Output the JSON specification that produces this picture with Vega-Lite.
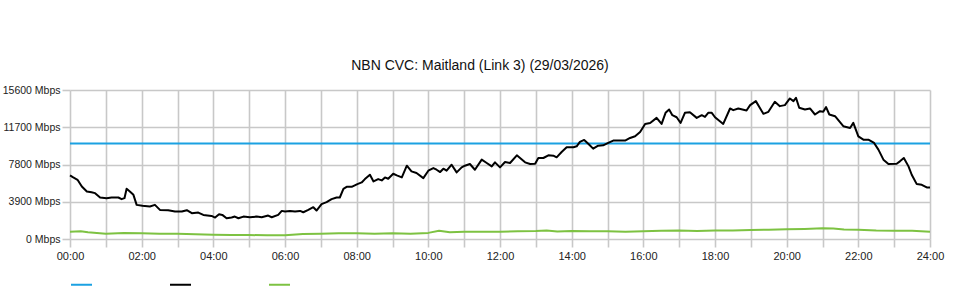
{
"$schema": "https://vega.github.io/schema/vega-lite/v6.json",
"width": 860, "height": 149,
"autosize": "none",
"padding": {"left": 70, "top": 90, "right": 30, "bottom": 61},
"background": "white",
"title": {"text": "NBN CVC: Maitland (Link 3) (29/03/2026)", "font": "Liberation Sans", "fontSize": 14, "fontWeight": "normal", "color": "#111111", "anchor": "middle", "dx": -20, "offset": 12},
"config": {"view": {"stroke": null}},
"data": {"values": [
{"s":"Capacity","h":0,"v":10000},{"s":"Capacity","h":24,"v":10000},
{"s":"Traffic In","h":0.00,"v":6658},{"s":"Traffic In","h":0.09,"v":6450},{"s":"Traffic In","h":0.21,"v":6200},{"s":"Traffic In","h":0.33,"v":5500},{"s":"Traffic In","h":0.47,"v":4975},{"s":"Traffic In","h":0.60,"v":4900},{"s":"Traffic In","h":0.70,"v":4800},{"s":"Traffic In","h":0.84,"v":4345},{"s":"Traffic In","h":1.02,"v":4275},{"s":"Traffic In","h":1.16,"v":4345},{"s":"Traffic In","h":1.35,"v":4345},{"s":"Traffic In","h":1.44,"v":4170},{"s":"Traffic In","h":1.52,"v":4275},{"s":"Traffic In","h":1.58,"v":5256},{"s":"Traffic In","h":1.67,"v":4975},{"s":"Traffic In","h":1.77,"v":4625},{"s":"Traffic In","h":1.86,"v":3574},{"s":"Traffic In","h":2.02,"v":3470},{"s":"Traffic In","h":2.23,"v":3400},{"s":"Traffic In","h":2.37,"v":3574},{"s":"Traffic In","h":2.51,"v":3048},{"s":"Traffic In","h":2.74,"v":3013},{"s":"Traffic In","h":2.93,"v":2873},{"s":"Traffic In","h":3.12,"v":2873},{"s":"Traffic In","h":3.26,"v":3013},{"s":"Traffic In","h":3.40,"v":2698},{"s":"Traffic In","h":3.58,"v":2768},{"s":"Traffic In","h":3.72,"v":2523},{"s":"Traffic In","h":3.95,"v":2418},{"s":"Traffic In","h":4.05,"v":2243},{"s":"Traffic In","h":4.16,"v":2593},{"s":"Traffic In","h":4.25,"v":2523},{"s":"Traffic In","h":4.37,"v":2173},{"s":"Traffic In","h":4.51,"v":2243},{"s":"Traffic In","h":4.60,"v":2348},{"s":"Traffic In","h":4.70,"v":2173},{"s":"Traffic In","h":4.84,"v":2348},{"s":"Traffic In","h":5.02,"v":2278},{"s":"Traffic In","h":5.21,"v":2348},{"s":"Traffic In","h":5.35,"v":2278},{"s":"Traffic In","h":5.53,"v":2453},{"s":"Traffic In","h":5.63,"v":2278},{"s":"Traffic In","h":5.81,"v":2523},{"s":"Traffic In","h":5.91,"v":2943},
{"s":"Traffic In","h":6.00,"v":2873},{"s":"Traffic In","h":6.14,"v":2943},{"s":"Traffic In","h":6.28,"v":2873},{"s":"Traffic In","h":6.42,"v":2943},{"s":"Traffic In","h":6.51,"v":2803},{"s":"Traffic In","h":6.65,"v":3048},{"s":"Traffic In","h":6.79,"v":3329},{"s":"Traffic In","h":6.88,"v":2978},{"s":"Traffic In","h":7.02,"v":3644},{"s":"Traffic In","h":7.16,"v":3854},{"s":"Traffic In","h":7.30,"v":4170},{"s":"Traffic In","h":7.44,"v":4345},{"s":"Traffic In","h":7.53,"v":4345},{"s":"Traffic In","h":7.63,"v":5256},{"s":"Traffic In","h":7.72,"v":5466},{"s":"Traffic In","h":7.86,"v":5466},{"s":"Traffic In","h":8.02,"v":5747},{"s":"Traffic In","h":8.14,"v":5922},{"s":"Traffic In","h":8.23,"v":6272},{"s":"Traffic In","h":8.37,"v":6728},{"s":"Traffic In","h":8.47,"v":6027},{"s":"Traffic In","h":8.60,"v":6272},{"s":"Traffic In","h":8.70,"v":6132},{"s":"Traffic In","h":8.79,"v":6447},{"s":"Traffic In","h":8.88,"v":6307},{"s":"Traffic In","h":9.02,"v":6833},{"s":"Traffic In","h":9.12,"v":6658},{"s":"Traffic In","h":9.26,"v":6447},{"s":"Traffic In","h":9.40,"v":7674},{"s":"Traffic In","h":9.53,"v":7078},{"s":"Traffic In","h":9.67,"v":6903},{"s":"Traffic In","h":9.86,"v":6378},{"s":"Traffic In","h":10.00,"v":7149},{"s":"Traffic In","h":10.14,"v":7429},{"s":"Traffic In","h":10.23,"v":7253},{"s":"Traffic In","h":10.33,"v":7008},{"s":"Traffic In","h":10.42,"v":7358},{"s":"Traffic In","h":10.51,"v":7149},{"s":"Traffic In","h":10.65,"v":7780},{"s":"Traffic In","h":10.79,"v":6973},{"s":"Traffic In","h":10.93,"v":7499},{"s":"Traffic In","h":11.02,"v":7674},{"s":"Traffic In","h":11.16,"v":7850},{"s":"Traffic In","h":11.30,"v":7253},{"s":"Traffic In","h":11.49,"v":8305},{"s":"Traffic In","h":11.63,"v":7955},{"s":"Traffic In","h":11.77,"v":7604},{"s":"Traffic In","h":11.86,"v":8025},
{"s":"Traffic In","h":12.00,"v":7499},{"s":"Traffic In","h":12.14,"v":8060},{"s":"Traffic In","h":12.28,"v":7955},{"s":"Traffic In","h":12.47,"v":8760},{"s":"Traffic In","h":12.56,"v":8480},{"s":"Traffic In","h":12.70,"v":8025},{"s":"Traffic In","h":12.84,"v":7850},{"s":"Traffic In","h":12.98,"v":7885},{"s":"Traffic In","h":13.07,"v":8480},{"s":"Traffic In","h":13.21,"v":8480},{"s":"Traffic In","h":13.35,"v":8760},{"s":"Traffic In","h":13.49,"v":8725},{"s":"Traffic In","h":13.58,"v":8550},{"s":"Traffic In","h":13.72,"v":9110},{"s":"Traffic In","h":13.86,"v":9600},{"s":"Traffic In","h":14.05,"v":9600},{"s":"Traffic In","h":14.14,"v":9705},{"s":"Traffic In","h":14.23,"v":10160},{"s":"Traffic In","h":14.35,"v":10370},{"s":"Traffic In","h":14.47,"v":9950},{"s":"Traffic In","h":14.60,"v":9460},{"s":"Traffic In","h":14.74,"v":9775},{"s":"Traffic In","h":14.88,"v":9810},{"s":"Traffic In","h":15.02,"v":10056},{"s":"Traffic In","h":15.16,"v":10300},{"s":"Traffic In","h":15.35,"v":10300},{"s":"Traffic In","h":15.49,"v":10300},{"s":"Traffic In","h":15.63,"v":10580},{"s":"Traffic In","h":15.77,"v":10756},{"s":"Traffic In","h":15.91,"v":11212},{"s":"Traffic In","h":16.05,"v":12050},{"s":"Traffic In","h":16.19,"v":12154},{"s":"Traffic In","h":16.37,"v":12680},{"s":"Traffic In","h":16.51,"v":12050},{"s":"Traffic In","h":16.62,"v":13210},{"s":"Traffic In","h":16.72,"v":13560},{"s":"Traffic In","h":16.81,"v":12960},{"s":"Traffic In","h":16.93,"v":12750},{"s":"Traffic In","h":17.04,"v":12150},{"s":"Traffic In","h":17.16,"v":13210},{"s":"Traffic In","h":17.30,"v":13280},{"s":"Traffic In","h":17.49,"v":12680},{"s":"Traffic In","h":17.63,"v":12960},{"s":"Traffic In","h":17.72,"v":12785},{"s":"Traffic In","h":17.81,"v":13210},{"s":"Traffic In","h":17.91,"v":13210},
{"s":"Traffic In","h":18.00,"v":12750},{"s":"Traffic In","h":18.23,"v":12050},{"s":"Traffic In","h":18.42,"v":13665},{"s":"Traffic In","h":18.51,"v":13490},{"s":"Traffic In","h":18.65,"v":13665},{"s":"Traffic In","h":18.88,"v":13455},{"s":"Traffic In","h":18.98,"v":14016},{"s":"Traffic In","h":19.14,"v":14436},{"s":"Traffic In","h":19.35,"v":13105},{"s":"Traffic In","h":19.49,"v":13315},{"s":"Traffic In","h":19.67,"v":14366},{"s":"Traffic In","h":19.81,"v":13910},{"s":"Traffic In","h":19.95,"v":14016},{"s":"Traffic In","h":20.09,"v":14717},{"s":"Traffic In","h":20.19,"v":14436},{"s":"Traffic In","h":20.26,"v":14787},{"s":"Traffic In","h":20.35,"v":13735},{"s":"Traffic In","h":20.51,"v":13560},{"s":"Traffic In","h":20.65,"v":13665},{"s":"Traffic In","h":20.79,"v":13035},{"s":"Traffic In","h":20.93,"v":13385},{"s":"Traffic In","h":21.02,"v":13315},{"s":"Traffic In","h":21.10,"v":13805},{"s":"Traffic In","h":21.19,"v":13035},{"s":"Traffic In","h":21.35,"v":12855},{"s":"Traffic In","h":21.58,"v":11810},{"s":"Traffic In","h":21.77,"v":11630},{"s":"Traffic In","h":21.86,"v":12155},{"s":"Traffic In","h":22.00,"v":10750},{"s":"Traffic In","h":22.14,"v":10400},{"s":"Traffic In","h":22.28,"v":10400},{"s":"Traffic In","h":22.44,"v":10056},{"s":"Traffic In","h":22.56,"v":9355},{"s":"Traffic In","h":22.70,"v":8305},{"s":"Traffic In","h":22.84,"v":7850},{"s":"Traffic In","h":23.07,"v":7885},{"s":"Traffic In","h":23.16,"v":8130},{"s":"Traffic In","h":23.27,"v":8480},{"s":"Traffic In","h":23.40,"v":7604},{"s":"Traffic In","h":23.49,"v":6728},{"s":"Traffic In","h":23.63,"v":5747},{"s":"Traffic In","h":23.77,"v":5677},{"s":"Traffic In","h":23.91,"v":5396},{"s":"Traffic In","h":24.00,"v":5396},
{"s":"Traffic Out","h":0,"v":770},{"s":"Traffic Out","h":0.3,"v":800},{"s":"Traffic Out","h":0.5,"v":700},{"s":"Traffic Out","h":1,"v":560},{"s":"Traffic Out","h":1.5,"v":620},{"s":"Traffic Out","h":2,"v":600},{"s":"Traffic Out","h":2.5,"v":560},{"s":"Traffic Out","h":3,"v":560},{"s":"Traffic Out","h":3.5,"v":490},{"s":"Traffic Out","h":4,"v":450},{"s":"Traffic Out","h":4.5,"v":420},{"s":"Traffic Out","h":5,"v":420},{"s":"Traffic Out","h":5.5,"v":380},{"s":"Traffic Out","h":6,"v":380},{"s":"Traffic Out","h":6.5,"v":520},{"s":"Traffic Out","h":7,"v":540},{"s":"Traffic Out","h":7.5,"v":600},{"s":"Traffic Out","h":8,"v":590},{"s":"Traffic Out","h":8.5,"v":560},{"s":"Traffic Out","h":9,"v":600},{"s":"Traffic Out","h":9.5,"v":560},{"s":"Traffic Out","h":10,"v":640},{"s":"Traffic Out","h":10.3,"v":860},{"s":"Traffic Out","h":10.6,"v":700},{"s":"Traffic Out","h":11,"v":770},{"s":"Traffic Out","h":11.5,"v":770},{"s":"Traffic Out","h":12,"v":750},{"s":"Traffic Out","h":12.5,"v":800},{"s":"Traffic Out","h":13,"v":830},{"s":"Traffic Out","h":13.3,"v":880},{"s":"Traffic Out","h":13.6,"v":790},{"s":"Traffic Out","h":14,"v":840},{"s":"Traffic Out","h":14.5,"v":820},{"s":"Traffic Out","h":15,"v":800},{"s":"Traffic Out","h":15.5,"v":760},{"s":"Traffic Out","h":16,"v":800},{"s":"Traffic Out","h":16.5,"v":870},{"s":"Traffic Out","h":17,"v":900},{"s":"Traffic Out","h":17.5,"v":850},{"s":"Traffic Out","h":18,"v":880},{"s":"Traffic Out","h":18.5,"v":900},{"s":"Traffic Out","h":19,"v":940},{"s":"Traffic Out","h":19.5,"v":980},{"s":"Traffic Out","h":20,"v":1020},{"s":"Traffic Out","h":20.5,"v":1050},{"s":"Traffic Out","h":21,"v":1120},{"s":"Traffic Out","h":21.3,"v":1090},{"s":"Traffic Out","h":21.6,"v":990},{"s":"Traffic Out","h":22,"v":970},{"s":"Traffic Out","h":22.5,"v":880},{"s":"Traffic Out","h":23,"v":870},{"s":"Traffic Out","h":23.5,"v":860},{"s":"Traffic Out","h":24,"v":760}
]},
"mark": {"type": "line", "strokeWidth": 2, "strokeJoin": "round"},
"encoding": {
  "x": {"field": "h", "type": "quantitative", "scale": {"domain": [0, 24], "nice": false, "zero": false},
    "axis": {"title": null, "values": [0,1,2,3,4,5,6,7,8,9,10,11,12,13,14,15,16,17,18,19,20,21,22,23,24],
      "labelExpr": "datum.value % 2 == 0 ? (datum.value < 10 ? '0' : '') + datum.value + ':00' : ''",
      "grid": true, "gridColor": "#c8c8c8", "gridWidth": 1.6, "domain": false, "ticks": true, "tickSize": 8, "tickWidth": 1.6, "tickColor": "#c8c8c8",
      "labelFont": "Liberation Sans", "labelFontSize": 11, "labelColor": "#222222", "labelPadding": 3, "labelOverlap": false, "labelBound": false, "labelFlush": false}},
  "y": {"field": "v", "type": "quantitative", "scale": {"domain": [0, 15600], "nice": false},
    "axis": {"title": null, "values": [0, 3900, 7800, 11700, 15600], "labelExpr": "datum.value + ' Mbps'",
      "grid": true, "gridColor": "#c8c8c8", "gridWidth": 1.6, "domain": false, "ticks": true, "tickSize": 8, "tickWidth": 1.6, "tickColor": "#c8c8c8",
      "labelFont": "Liberation Sans", "labelFontSize": 10.5, "labelColor": "#222222", "labelPadding": 2, "labelOverlap": false, "labelBound": false}},
  "color": {"field": "s", "type": "nominal",
    "scale": {"domain": ["Capacity", "Traffic In", "Traffic Out"], "range": ["#1ba1e2", "#000000", "#7dc242"]},
    "legend": {"orient": "none", "legendX": 0, "legendY": 183, "direction": "horizontal", "title": null,
      "symbolType": "stroke", "symbolSize": 441, "symbolStrokeWidth": 2, "labelExpr": "''", "labelOffset": 0, "columnPadding": 70, "padding": 0}}
}
}
